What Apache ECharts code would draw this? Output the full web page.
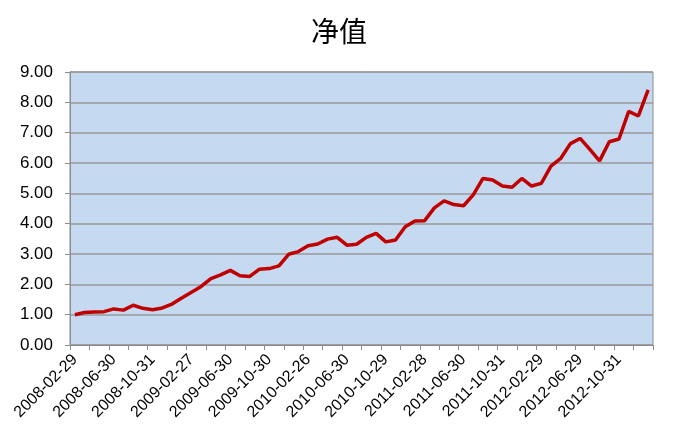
<!DOCTYPE html>
<html>
<head>
<meta charset="utf-8">
<script src="https://cdn.jsdelivr.net/npm/echarts@6/dist/echarts.min.js"></script>
<style>html,body{margin:0;padding:0;background:#fff}#c{width:678px;height:441px}</style>
</head>
<body>
<div id="c"></div>
<script>
var chartTitle = '净值';
var categories = [
  '2008-02-29','2008-03-31','2008-04-30','2008-05-30','2008-06-30','2008-07-31','2008-08-29','2008-09-26','2008-10-31','2008-11-28','2008-12-31',
  '2009-01-23','2009-02-27','2009-03-31','2009-04-30','2009-05-27','2009-06-30','2009-07-31','2009-08-31','2009-09-30','2009-10-30','2009-11-30','2009-12-31',
  '2010-01-29','2010-02-26','2010-03-31','2010-04-30','2010-05-31','2010-06-30','2010-07-30','2010-08-31','2010-09-30','2010-10-29','2010-11-30','2010-12-31',
  '2011-01-31','2011-02-28','2011-03-31','2011-04-29','2011-05-31','2011-06-30','2011-07-29','2011-08-31','2011-09-30','2011-10-31','2011-11-30','2011-12-30',
  '2012-01-31','2012-02-29','2012-03-30','2012-04-27','2012-05-31','2012-06-29','2012-07-31','2012-08-31','2012-09-28','2012-10-31','2012-11-30','2012-12-31',
  '2013-01-31'
];
var navValues = [
  1.00,1.07,1.09,1.10,1.19,1.15,1.31,1.21,1.16,1.22,1.35,
  1.55,1.74,1.93,2.19,2.31,2.46,2.28,2.26,2.50,2.52,2.61,2.99,
  3.08,3.27,3.33,3.49,3.55,3.29,3.32,3.55,3.68,3.40,3.46,3.90,
  4.09,4.10,4.52,4.75,4.63,4.59,4.95,5.49,5.44,5.24,5.20,5.49,
  5.24,5.33,5.90,6.15,6.64,6.81,6.45,6.07,6.70,6.79,7.70,7.55,
  8.41
];
var yTicks = [0,1,2,3,4,5,6,7,8,9];

var chart = echarts.init(document.getElementById('c'), null, {renderer:'canvas'});
var gray = '#8c8c8c';
chart.setOption({
  animation: false,
  backgroundColor: '#ffffff',
  title: {
    text: chartTitle, left: 'center', top: 12,
    textStyle: {fontFamily: 'Noto Sans CJK SC', fontSize: 28, fontWeight: 'normal', color: '#000'}
  },
  grid: {
    left: 70, right: 25, top: 72, bottom: 96, containLabel: false,
    show: true, backgroundColor: '#C5D9F1', borderColor: gray, borderWidth: 1
  },
  xAxis: {
    type: 'category', data: categories, boundaryGap: true,
    axisLine: {show: true, lineStyle: {color: gray, width: 1}},
    axisTick: {show: true, interval: 1, length: 5, lineStyle: {color: gray}},
    axisLabel: {interval: 3, rotate: 45, fontSize: 16, color: '#000', fontFamily: 'Liberation Sans', margin: 12}
  },
  yAxis: {
    type: 'value', min: yTicks[0], max: yTicks[yTicks.length-1], interval: 1,
    axisLine: {show: true, lineStyle: {color: gray, width: 1}},
    axisTick: {show: true, length: 5, lineStyle: {color: gray}},
    axisLabel: {fontSize: 17, color: '#000', fontFamily: 'Liberation Sans', margin: 17,
      formatter: function(v){ return v.toFixed(2); }},
    splitLine: {show: true, lineStyle: {color: '#999999', width: 1.5}}
  },
  series: [{
    type: 'line', data: navValues, symbol: 'none', smooth: false,
    lineStyle: {color: '#C00000', width: 3.5}
  }]
});
</script>
</body>
</html>
